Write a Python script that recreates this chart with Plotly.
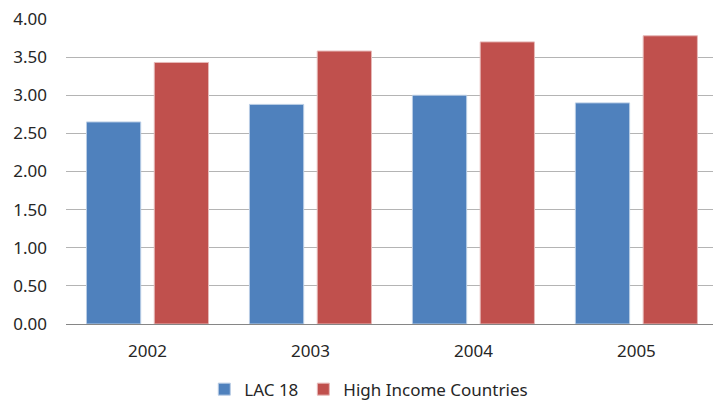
import plotly.graph_objects as go

years = ["2002", "2003", "2004", "2005"]
lac18 = [2.65, 2.88, 3.00, 2.90]
high_income = [3.43, 3.58, 3.70, 3.78]
y_ticks = [0, 0.5, 1.0, 1.5, 2.0, 2.5, 3.0, 3.5, 4.0]

font_family = "Noto Sans"

fig = go.Figure()
fig.add_trace(go.Bar(
    x=years, y=lac18, name="LAC 18",
    marker=dict(color="#4F81BD", line=dict(color="#B9CDE5", width=1)),
))
fig.add_trace(go.Bar(
    x=years, y=high_income, name="High Income Countries",
    marker=dict(color="#C0504D", line=dict(color="#E6B9B8", width=1)),
))

fig.update_layout(
    width=713, height=403,
    margin=dict(l=66, r=0, t=19, b=79, autoexpand=False),
    paper_bgcolor="white", plot_bgcolor="white",
    barmode="group", bargap=0.168, bargroupgap=0.2,
    font=dict(family=font_family, size=17, color="#262626"),
    showlegend=True,
    legend=dict(
        orientation="h", xref="paper", yref="paper",
        x=0.468, xanchor="center", y=-0.215, yanchor="middle",
        font=dict(size=17, color="#262626"),
        itemwidth=30, traceorder="normal",
        borderwidth=0, tracegroupgap=0,
    ),
    xaxis=dict(
        type="category", range=[-0.5, 3.47],
        showgrid=False, showline=True, linecolor="#868686", linewidth=1,
        ticks="", ticklabelstandoff=12,
        tickfont=dict(size=17, color="#262626"),
    ),
    yaxis=dict(
        range=[0, 4.0], tickvals=y_ticks,
        ticktext=[f"{v:.2f}" for v in y_ticks],
        showgrid=True, gridcolor="#B4B4B4", gridwidth=1,
        zeroline=True, zerolinecolor="#868686", zerolinewidth=1,
        showline=False, ticks="", ticklabelstandoff=18,
        tickfont=dict(size=17, color="#262626"),
    ),
)

fig.write_html("out.html")
